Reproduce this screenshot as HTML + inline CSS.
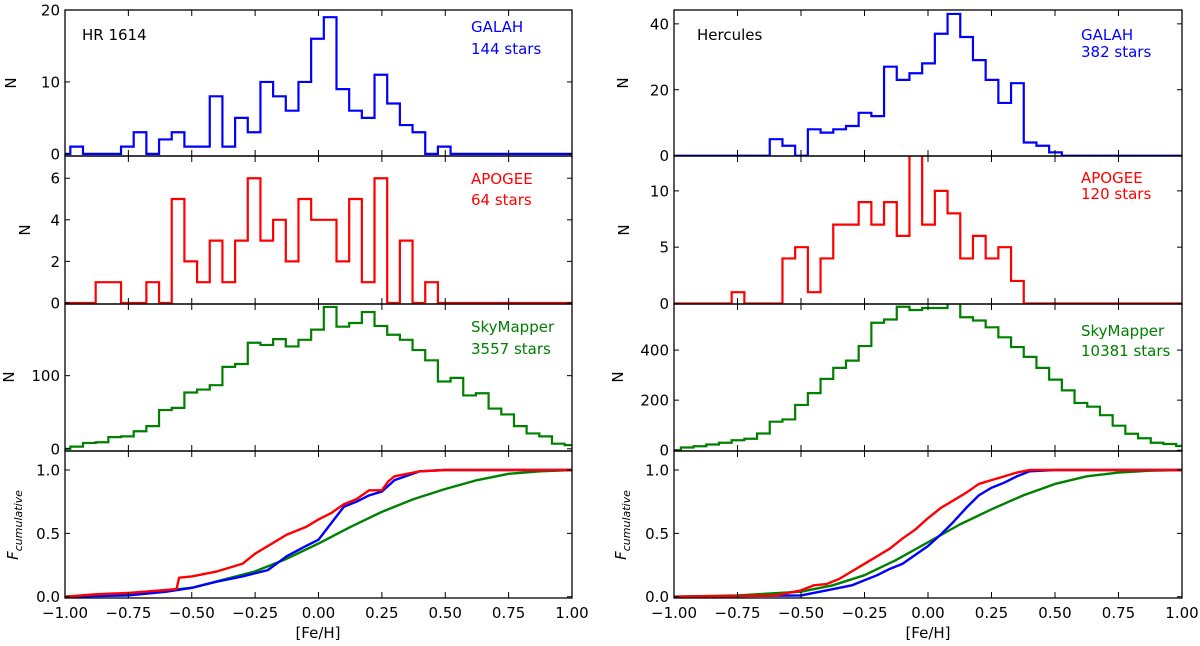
<!DOCTYPE html>
<html><head><meta charset="utf-8">
<style>
html,body{margin:0;padding:0;background:#fff;}
svg{display:block;font-family:"DejaVu Sans","Liberation Sans",sans-serif;}
</style></head>
<body>
<svg id="fig" width="1200" height="646" viewBox="0 0 1200 646" xmlns="http://www.w3.org/2000/svg"></svg>
<script>
// ---- data ----
const binWidth = 0.05;
const leftBinStart = -0.979;
const rightBinStart = -0.973;
const leftGalah = [1,0,0,0,1,3,0,2,3,1,1,8,1,5,3,10,8,6,10,16,19,9,6,5,11,7,4,3,0,1];
const leftApogee = [0,0,1,1,0,0,1,0,5,2,1,3,1,3,6,3,4,2,5,4,4,2,5,1,6,0,3,0,1];
const leftSky = [3,8,9,16,17,24,31,53,56,77,81,87,112,116,145,142,150,140,149,163,194,167,172,187,168,156,149,135,121,92,97,73,76,55,47,31,21,17,7,5];
const rightGalah = [0,0,0,0,0,0,0,5,3,0,8,7,8,9,13,12,27,23,25,28,37,43,36,29,23,16,22,4,3,1];
const rightApogee = [0,0,0,0,1,0,0,0,4,5,1,4,7,7,9,7,9,6,14,7,10,8,4,6,4,5,2];
const rightSky = [11,16,23,30,40,46,67,114,123,181,228,285,329,358,416,509,522,573,560,568,568,589,531,518,491,451,412,373,329,282,239,189,174,140,98,66,48,30,25,17];
// cumulative curves
const leftCdfRedX = [-1,-0.875,-0.75,-0.625,-0.56,-0.55,-0.5,-0.4,-0.3,-0.25,-0.2,-0.125,-0.05,0,0.05,0.1,0.15,0.2,0.25,0.275,0.3,0.4,0.5,1];
const leftCdfRedY = [0,0.02,0.03,0.05,0.06,0.15,0.16,0.2,0.26,0.34,0.40,0.49,0.55,0.61,0.66,0.73,0.77,0.84,0.84,0.91,0.95,0.99,1,1];
const leftCdfBlueX = [-1,-0.75,-0.6,-0.5,-0.4,-0.3,-0.2,-0.125,-0.05,0,0.05,0.1,0.15,0.2,0.25,0.3,0.4,0.5,1];
const leftCdfBlueY = [0,0.01,0.04,0.07,0.12,0.16,0.21,0.32,0.40,0.45,0.58,0.71,0.75,0.80,0.83,0.92,0.99,1,1];
const leftCdfGreenX = [-1,-0.75,-0.5,-0.25,-0.125,0,0.125,0.25,0.375,0.5,0.625,0.75,0.875,1];
const leftCdfGreenY = [0,0.02,0.07,0.2,0.3,0.42,0.55,0.67,0.77,0.85,0.92,0.97,0.99,1];
const rightCdfRedX = [-1,-0.6,-0.5,-0.45,-0.4,-0.35,-0.3,-0.25,-0.2,-0.15,-0.1,-0.05,0,0.05,0.1,0.15,0.2,0.25,0.3,0.35,0.4,1];
const rightCdfRedY = [0,0.01,0.05,0.09,0.1,0.14,0.2,0.26,0.32,0.38,0.46,0.53,0.62,0.70,0.76,0.82,0.89,0.92,0.95,0.98,1,1];
const rightCdfBlueX = [-1,-0.5,-0.45,-0.4,-0.3,-0.25,-0.2,-0.15,-0.1,-0.05,0,0.05,0.1,0.15,0.2,0.25,0.3,0.35,0.4,0.5,1];
const rightCdfBlueY = [0,0.01,0.03,0.05,0.09,0.13,0.17,0.22,0.26,0.33,0.40,0.49,0.59,0.70,0.80,0.86,0.90,0.95,0.99,1,1];
const rightCdfGreenX = [-1,-0.75,-0.5,-0.375,-0.25,-0.125,0,0.125,0.25,0.375,0.5,0.625,0.75,0.875,1];
const rightCdfGreenY = [0,0.01,0.04,0.09,0.17,0.29,0.43,0.57,0.69,0.80,0.89,0.95,0.98,0.995,1];
const xTicks = [-1,-0.75,-0.5,-0.25,0,0.25,0.5,0.75,1];
const xTickLabels = ["\u22121.00","\u22120.75","\u22120.50","\u22120.25","0.00","0.25","0.50","0.75","1.00"];

// ---- layout ----
const NS = "http://www.w3.org/2000/svg";
const svg = document.getElementById('fig');
const cols = [{x0:65,x1:572},{x0:674,x1:1182}];
const rows = [{y0:10,y1:156},{y0:156,y1:304},{y0:304,y1:451},{y0:451,y1:598}];
function el(tag, attrs, parent){
  const e = document.createElementNS(NS, tag);
  for (const k in attrs) e.setAttribute(k, attrs[k]);
  (parent||svg).appendChild(e);
  return e;
}
function xScale(c){ return v => c.x0 + (v + 1) / 2 * (c.x1 - c.x0); }
function yScale(r, lo, hi){ return v => r.y1 - (v - lo) / (hi - lo) * (r.y1 - r.y0); }

let clipId = 0;
function panel(ci, ri, lo, hi, yTicks, yLabels, name){
  const c = cols[ci], r = rows[ri];
  const g = el('g', {});
  
  
  const id = 'clip' + (clipId++);
  const cp = el('clipPath', {id:id}, g);
  el('rect', {x:c.x0, y:r.y0, width:c.x1-c.x0, height:r.y1-r.y0}, cp);
  const plot = el('g', {'clip-path':'url(#'+id+')'}, g);
  const X = xScale(c), Y = yScale(r, lo, hi);
  yTicks.forEach((t,i)=>{
    const y = Y(t);
    el('line',{x1:c.x0,x2:c.x0+5,y1:y,y2:y,stroke:'#000','stroke-width':1},g);
    el('line',{x1:c.x1,x2:c.x1-5,y1:y,y2:y,stroke:'#000','stroke-width':1},g);
    const tx = el('text',{x:c.x0-5,y:y+5.5,'text-anchor':'end','font-size':15,fill:'#000'},g);
    tx.textContent = yLabels[i];
    
    
  });
  xTicks.forEach((t,i)=>{
    const x = X(t);
    el('line',{x1:x,x2:x,y1:r.y1,y2:r.y1-6,stroke:'#000','stroke-width':1},g);
    el('line',{x1:x,x2:x,y1:r.y0,y2:r.y0+6,stroke:'#000','stroke-width':1},g);
    if (ri === 3){
      const tx = el('text',{x:x,y:r.y1+20,'text-anchor':'middle','font-size':15,fill:'#000'},g);
      tx.textContent = xTickLabels[i];
      
      
    }
  });
  return {g, plot, X, Y, c, r};
}
function hist(p, start, vals, color, name){
  let d = 'M'+p.c.x0+','+p.Y(0)+' L'+p.X(start)+','+p.Y(0);
  vals.forEach((v,i)=>{
    const a = p.X(start + i*binWidth), b = p.X(start + (i+1)*binWidth);
    d += ' L'+a+','+p.Y(v)+' L'+b+','+p.Y(v);
  });
  d += ' L'+p.X(start+vals.length*binWidth)+','+p.Y(0)+' L'+p.c.x1+','+p.Y(0);
  const path = el('path',{d:d,fill:'none',stroke:color,'stroke-width':2.2},p.plot);
  
  
}
function cdf(p, xs, ys, color, name){
  let d = '';
  xs.forEach((x,i)=>{ d += (i===0?'M':' L')+p.X(x)+','+p.Y(ys[i]); });
  const path = el('path',{d:d,fill:'none',stroke:color,'stroke-width':2.4,'stroke-linejoin':'round'},p.plot);
  
  
}
function frame(p){
  el('rect',{x:p.c.x0,y:p.r.y0,width:p.c.x1-p.c.x0,height:p.r.y1-p.r.y0,fill:'none',stroke:'#000','stroke-width':1.3},p.g);
}
function label(x,y,txt,color,name){
  const t = el('text',{x:x,y:y,'font-size':15,fill:color});
  t.textContent = txt;
  
  
}
function ylab(x,y,name){
  const t = el('text',{x:x,y:y,'font-size':15,fill:'#000','text-anchor':'middle',transform:'rotate(-90 '+x+' '+y+')'});
  t.textContent = 'N';
  
  
}
function flab(x,y,name){
  const t = el('text',{x:x,y:y,'font-size':15,fill:'#000','text-anchor':'middle','font-style':'italic',transform:'rotate(-90 '+x+' '+y+')'});
  
  
  const s1 = el('tspan',{},t); s1.textContent='F';
  const s2 = el('tspan',{'font-size':11,dy:4},t); s2.textContent='cumulative';
}

// ---- left column ----
let p = panel(0,0,-0.3,20,[0,10,20],['0','10','20'],'left-galah-panel');
hist(p,leftBinStart,leftGalah,'#0000ff','left-galah-hist'); frame(p);
p = panel(0,1,-0.05,7.07,[0,2,4,6],['0','2','4','6'],'left-apogee-panel');
hist(p,leftBinStart,leftApogee,'#ff0000','left-apogee-hist'); frame(p);
p = panel(0,2,-3,198,[0,100],['0','100'],'left-skymapper-panel');
hist(p,leftBinStart,leftSky,'#008000','left-skymapper-hist'); frame(p);
p = panel(0,3,-0.01,1.15,[0,0.5,1],['0.0','0.5','1.0'],'left-cumulative-panel');
cdf(p,leftCdfGreenX,leftCdfGreenY,'#008000','left-cdf-skymapper');
cdf(p,leftCdfBlueX,leftCdfBlueY,'#0000ff','left-cdf-galah');
cdf(p,leftCdfRedX,leftCdfRedY,'#ff0000','left-cdf-apogee'); frame(p);

// ---- right column ----
p = panel(1,0,-0.1,44.2,[0,20,40],['0','20','40'],'right-galah-panel');
hist(p,rightBinStart,rightGalah,'#0000ff','right-galah-hist'); frame(p);
p = panel(1,1,-0.05,13.1,[0,5,10],['0','5','10'],'right-apogee-panel');
hist(p,rightBinStart,rightApogee,'#ff0000','right-apogee-hist'); frame(p);
p = panel(1,2,-3,584,[0,200,400],['0','200','400'],'right-skymapper-panel');
hist(p,rightBinStart,rightSky,'#008000','right-skymapper-hist'); frame(p);
p = panel(1,3,-0.01,1.15,[0,0.5,1],['0.0','0.5','1.0'],'right-cumulative-panel');
cdf(p,rightCdfGreenX,rightCdfGreenY,'#008000','right-cdf-skymapper');
cdf(p,rightCdfBlueX,rightCdfBlueY,'#0000ff','right-cdf-galah');
cdf(p,rightCdfRedX,rightCdfRedY,'#ff0000','right-cdf-apogee'); frame(p);

// ---- labels ----
label(82,40,'HR 1614','#000','hr1614-title');
label(471,32,'GALAH','#0000ff','left-galah-label');
label(471,54,'144 stars','#0000ff','left-galah-count');
label(471,184,'APOGEE','#ff0000','left-apogee-label');
label(471,205,'64 stars','#ff0000','left-apogee-count');
label(471,332,'SkyMapper','#008000','left-skymapper-label');
label(471,354,'3557 stars','#008000','left-skymapper-count');
label(697,40,'Hercules','#000','hercules-title');
label(1081,40,'GALAH','#0000ff','right-galah-label');
label(1081,57,'382 stars','#0000ff','right-galah-count');
label(1081,183,'APOGEE','#ff0000','right-apogee-label');
label(1081,199,'120 stars','#ff0000','right-apogee-count');
label(1081,336,'SkyMapper','#008000','right-skymapper-label');
label(1081,356,'10381 stars','#008000','right-skymapper-count');
ylab(16,83,'left-galah-y-title');
ylab(30,230,'left-apogee-y-title');
ylab(14,377,'left-skymapper-y-title');
ylab(628,83,'right-galah-y-title');
ylab(629,230,'right-apogee-y-title');
ylab(623,377,'right-skymapper-y-title');
flab(18,525,'left-cumulative-y-title');
flab(626,525,'right-cumulative-y-title');
const xl1 = el('text',{x:318,y:638,'text-anchor':'middle','font-size':15,fill:'#000'});
xl1.textContent='[Fe/H]';


const xl2 = el('text',{x:928,y:638,'text-anchor':'middle','font-size':15,fill:'#000'});
xl2.textContent='[Fe/H]';


</script>
</body></html>
